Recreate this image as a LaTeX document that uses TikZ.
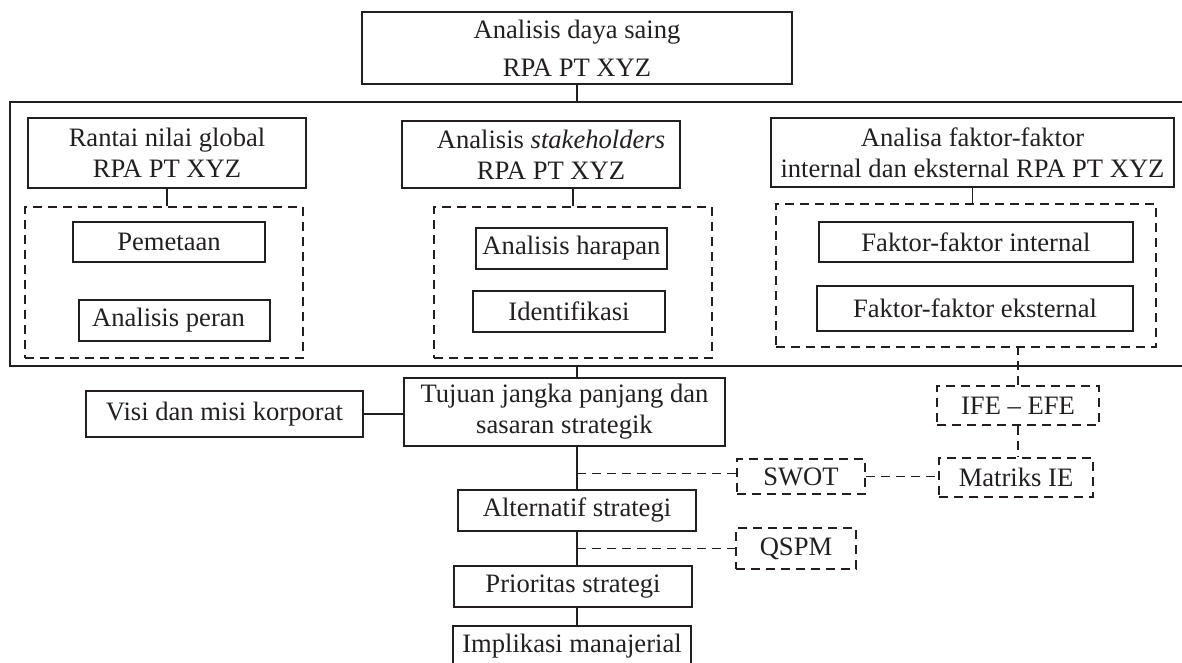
\documentclass[tikz,border=0pt]{standalone}
\usepackage{fontspec}
\setmainfont{Liberation Serif}
\usepackage{xcolor}
\usetikzlibrary{positioning,calc}
\definecolor{ink}{RGB}{35,31,32}
\tikzset{
  wh/.style 2 args={minimum width=#1pt, minimum height=#2pt},
  box/.style={draw=ink, text=ink, line width=1.6pt, inner sep=2pt, align=center,
    font=\fontsize{26.6}{31}\selectfont},
  dbox/.style={box, line width=1.5pt, dash pattern=on 9pt off 6pt},
  frame/.style={draw=ink, line width=1.9pt, inner sep=0pt},
  link/.style={draw=ink, line width=1.6pt},
  dlink/.style={draw=ink, line width=1.5pt, dash pattern=on 9pt off 6pt},
}

\begin{document}
\begin{tikzpicture}[x=1pt,y=1pt,yscale=-1,xscale=1]
\useasboundingbox (0,0) rectangle (1182,663);

%Shape: Rectangle [frame]
\node [frame, wh={1176}{264}] (frame) at (598,234) {};

% Text Node
\node [box, wh={430}{72}] (saing) at (577,48) {Analisis daya saing\\[7pt]RPA PT XYZ};

% Text Node
\node [box, wh={278}{70}] (rantai) at (167,153) {Rantai nilai global\\RPA PT XYZ};
\node [dbox, wh={278}{151}] (rantaiset) at (164,282.5) {};
\node [box, wh={192}{40}] (pemetaan) at (169,242) {Pemetaan};
\node [box, wh={191}{41}] (peran) at (174.5,320.5) {Analisis peran\hspace*{12pt}};

% Text Node
\node [box, wh={278}{67}] (stake) at (541,154.5) {\hspace*{20pt}Analisis \textit{stakeholders}\\\hspace*{20pt}RPA PT XYZ};
\node [dbox, wh={278}{151}] (stakeset) at (573,282.5) {};
\node [box, wh={191}{41}] (harapan) at (571.5,248.5) {Analisis harapan};
\node [box, wh={192}{41}] (identifikasi) at (569,311.5) {Identifikasi};

% Text Node
\node [box, wh={403}{69}] (faktor) at (972.5,152.5) {Analisa faktor-faktor\\internal dan eksternal RPA PT XYZ};
\node [dbox, wh={380}{143}] (faktorset) at (966,275.5) {};
\node [box, wh={314}{40}] (internal) at (976,242) {Faktor-faktor internal};
\node [box, wh={316}{45}] (eksternal) at (975,308.5) {Faktor-faktor eksternal};

% Text Node
\node [box, wh={321}{68}] (tujuan) at (564.5,412) {Tujuan jangka panjang dan\\sasaran strategik};
\node [box, wh={277}{46}] (visi) at (224.5,414) {Visi dan misi korporat};
\node [box, wh={238}{41}] (alternatif) at (577,510.5) {Alternatif strategi};
\node [box, wh={238}{41}] (prioritas) at (573,586.5) {Prioritas strategi};
\node [box, wh={238}{41}] (implikasi) at (572,646.5) {Implikasi manajerial};

% Text Node
\node [dbox, wh={162}{39}] (ife) at (1018,405.5) {IFE -- EFE};
\node [dbox, wh={154}{39}] (matriks) at (1016,477.5) {Matriks IE};
\node [dbox, wh={128}{35}] (swot) at (801,476.5) {SWOT};
\node [dbox, wh={120}{41}] (qspm) at (796,548.5) {QSPM};

%Straight Lines
\draw [link] (saing.south) -- (saing.south |- frame.north);
\draw [link] (rantai.south) -- (rantai.south |- rantaiset.north);
\draw [link] (stakeset.north) -- (stakeset.north |- stake.south);
\draw [link] (faktor.south) -- (faktor.south |- faktorset.north);
\draw [link] (alternatif.north |- frame.south) -- (alternatif.north |- tujuan.north);
\draw [link] (visi.east) -- (visi.east -| tujuan.west);
\draw [link] (alternatif.north |- tujuan.south) -- (alternatif.north);
\draw [link] (alternatif.south) -- (alternatif.south |- prioritas.north);
\draw [link] (alternatif.south |- prioritas.south) -- (alternatif.south |- implikasi.north);

%Dashed Lines
\draw [dlink] (ife.north) -- (ife.north |- faktorset.south);
\draw [dlink] (ife.south) -- (ife.south |- matriks.north);
\draw [dlink] (swot.east) -- (swot.east -| matriks.west);
\draw [dlink] ($(swot.west -| alternatif.north)+(0,-3)$) -- ($(swot.west)+(0,-3)$);
\draw [dlink] (qspm.west -| alternatif.north) -- (qspm.west);

\end{tikzpicture}
\end{document}
